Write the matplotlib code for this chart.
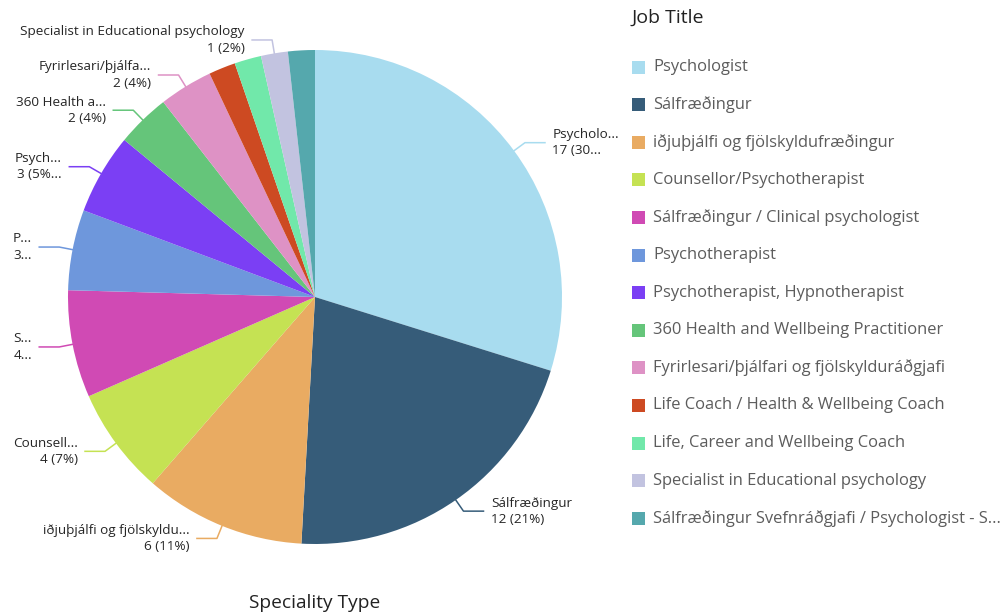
import numpy as np
import matplotlib
matplotlib.use('Agg')
import matplotlib.pyplot as plt
from matplotlib.patches import Rectangle

plt.rcParams['font.family'] = ['Open Sans', 'DejaVu Sans']

# Data (count per job title, clockwise from 12 o'clock)
job_titles = [
    'Psychologist',
    'Sálfræðingur',
    'iðjuþjálfi og fjölskyldufræðingur',
    'Counsellor/Psychotherapist',
    'Sálfræðingur / Clinical psychologist',
    'Psychotherapist',
    'Psychotherapist, Hypnotherapist',
    '360 Health and Wellbeing Practitioner',
    'Fyrirlesari/þjálfari og fjölskylduráðgjafi',
    'Life Coach / Health & Wellbeing Coach',
    'Life, Career and Wellbeing Coach',
    'Specialist in Educational psychology',
    'Sálfræðingur Svefnráðgjafi / Psychologist - S...',
]
counts = [17, 12, 6, 4, 4, 3, 3, 2, 2, 1, 1, 1, 1]
colors = ['#a8dcef', '#365c79', '#e9ab62', '#c5e253', '#d04ab4', '#6e97dc',
          '#7b3ff4', '#65c57a', '#de92c5', '#cd4a22', '#71e8aa', '#c2c3e0', '#55a8ad']

# slice labels as shown (truncated), empty = no label
slice_labels = [
    'Psycholo...\n17 (30...',
    'Sálfræðingur\n12 (21%)',
    'iðjuþjálfi og fjölskyldu...\n6 (11%)',
    'Counsell...\n4 (7%)',
    'S...\n4...',
    'P...\n3...',
    'Psych...\n3 (5%...',
    '360 Health a...\n2 (4%)',
    'Fyrirlesari/þjálfa...\n2 (4%)',
    '',
    '',
    'Specialist in Educational psychology\n1 (2%)',
    '',
]

W, H = 1008, 613
cx, cy, R = 315, 297, 247   # pie centre / radius in pixels

fig = plt.figure(figsize=(W / 100, H / 100), dpi=100)
ax = fig.add_axes([0, 0, 1, 1])

wedges, _ = ax.pie(counts, colors=colors, startangle=90, counterclock=False,
                   radius=1, center=(0, 0), wedgeprops=dict(linewidth=0))
ax.set_xlim(-cx / R, (W - cx) / R)
ax.set_ylim((cy - H) / R, cy / R)
ax.set_aspect('equal')
ax.axis('off')

# leader lines + labels
for w, lab in zip(wedges, slice_labels):
    if not lab:
        continue
    ang = np.deg2rad((w.theta1 + w.theta2) / 2)
    x0, y0 = np.cos(ang), np.sin(ang)
    x1, y1 = 1.055 * x0, 1.055 * y0
    side = 1 if x0 >= 0 else -1
    x2 = x1 + side * 0.081
    ax.plot([x0, x1, x2], [y0, y1, y1], color=w.get_facecolor(), lw=1.1,
            solid_joinstyle='round')
    ax.text(x2 + side * 0.03, y1, lab, ha='left' if side > 0 else 'right',
            va='center', multialignment='left' if side > 0 else 'right',
            fontsize=9.7, color='#262626', linespacing=1.32)

# axis title under the pie
fig.text(cx / W, 1 - 603 / H, 'Speciality Type', ha='center', va='center',
         fontsize=13.8, color='#222222')

# legend drawn by hand
fig.text(632 / W, 1 - 18 / H, 'Job Title', ha='left', va='center',
         fontsize=14, color='#222222', fontweight='medium')
for i, (t, c) in enumerate(zip(job_titles, colors)):
    ypix = 67 + i * 37.6
    fig.patches.append(Rectangle((632 / W, 1 - (ypix + 6.5) / H), 13 / W, 13 / H,
                                 transform=fig.transFigure, facecolor=c,
                                 edgecolor='none'))
    fig.text(653 / W, 1 - ypix / H, t, ha='left', va='center',
             fontsize=11.85, color='#5c5c5c')

fig.savefig('out.png', dpi=100)
